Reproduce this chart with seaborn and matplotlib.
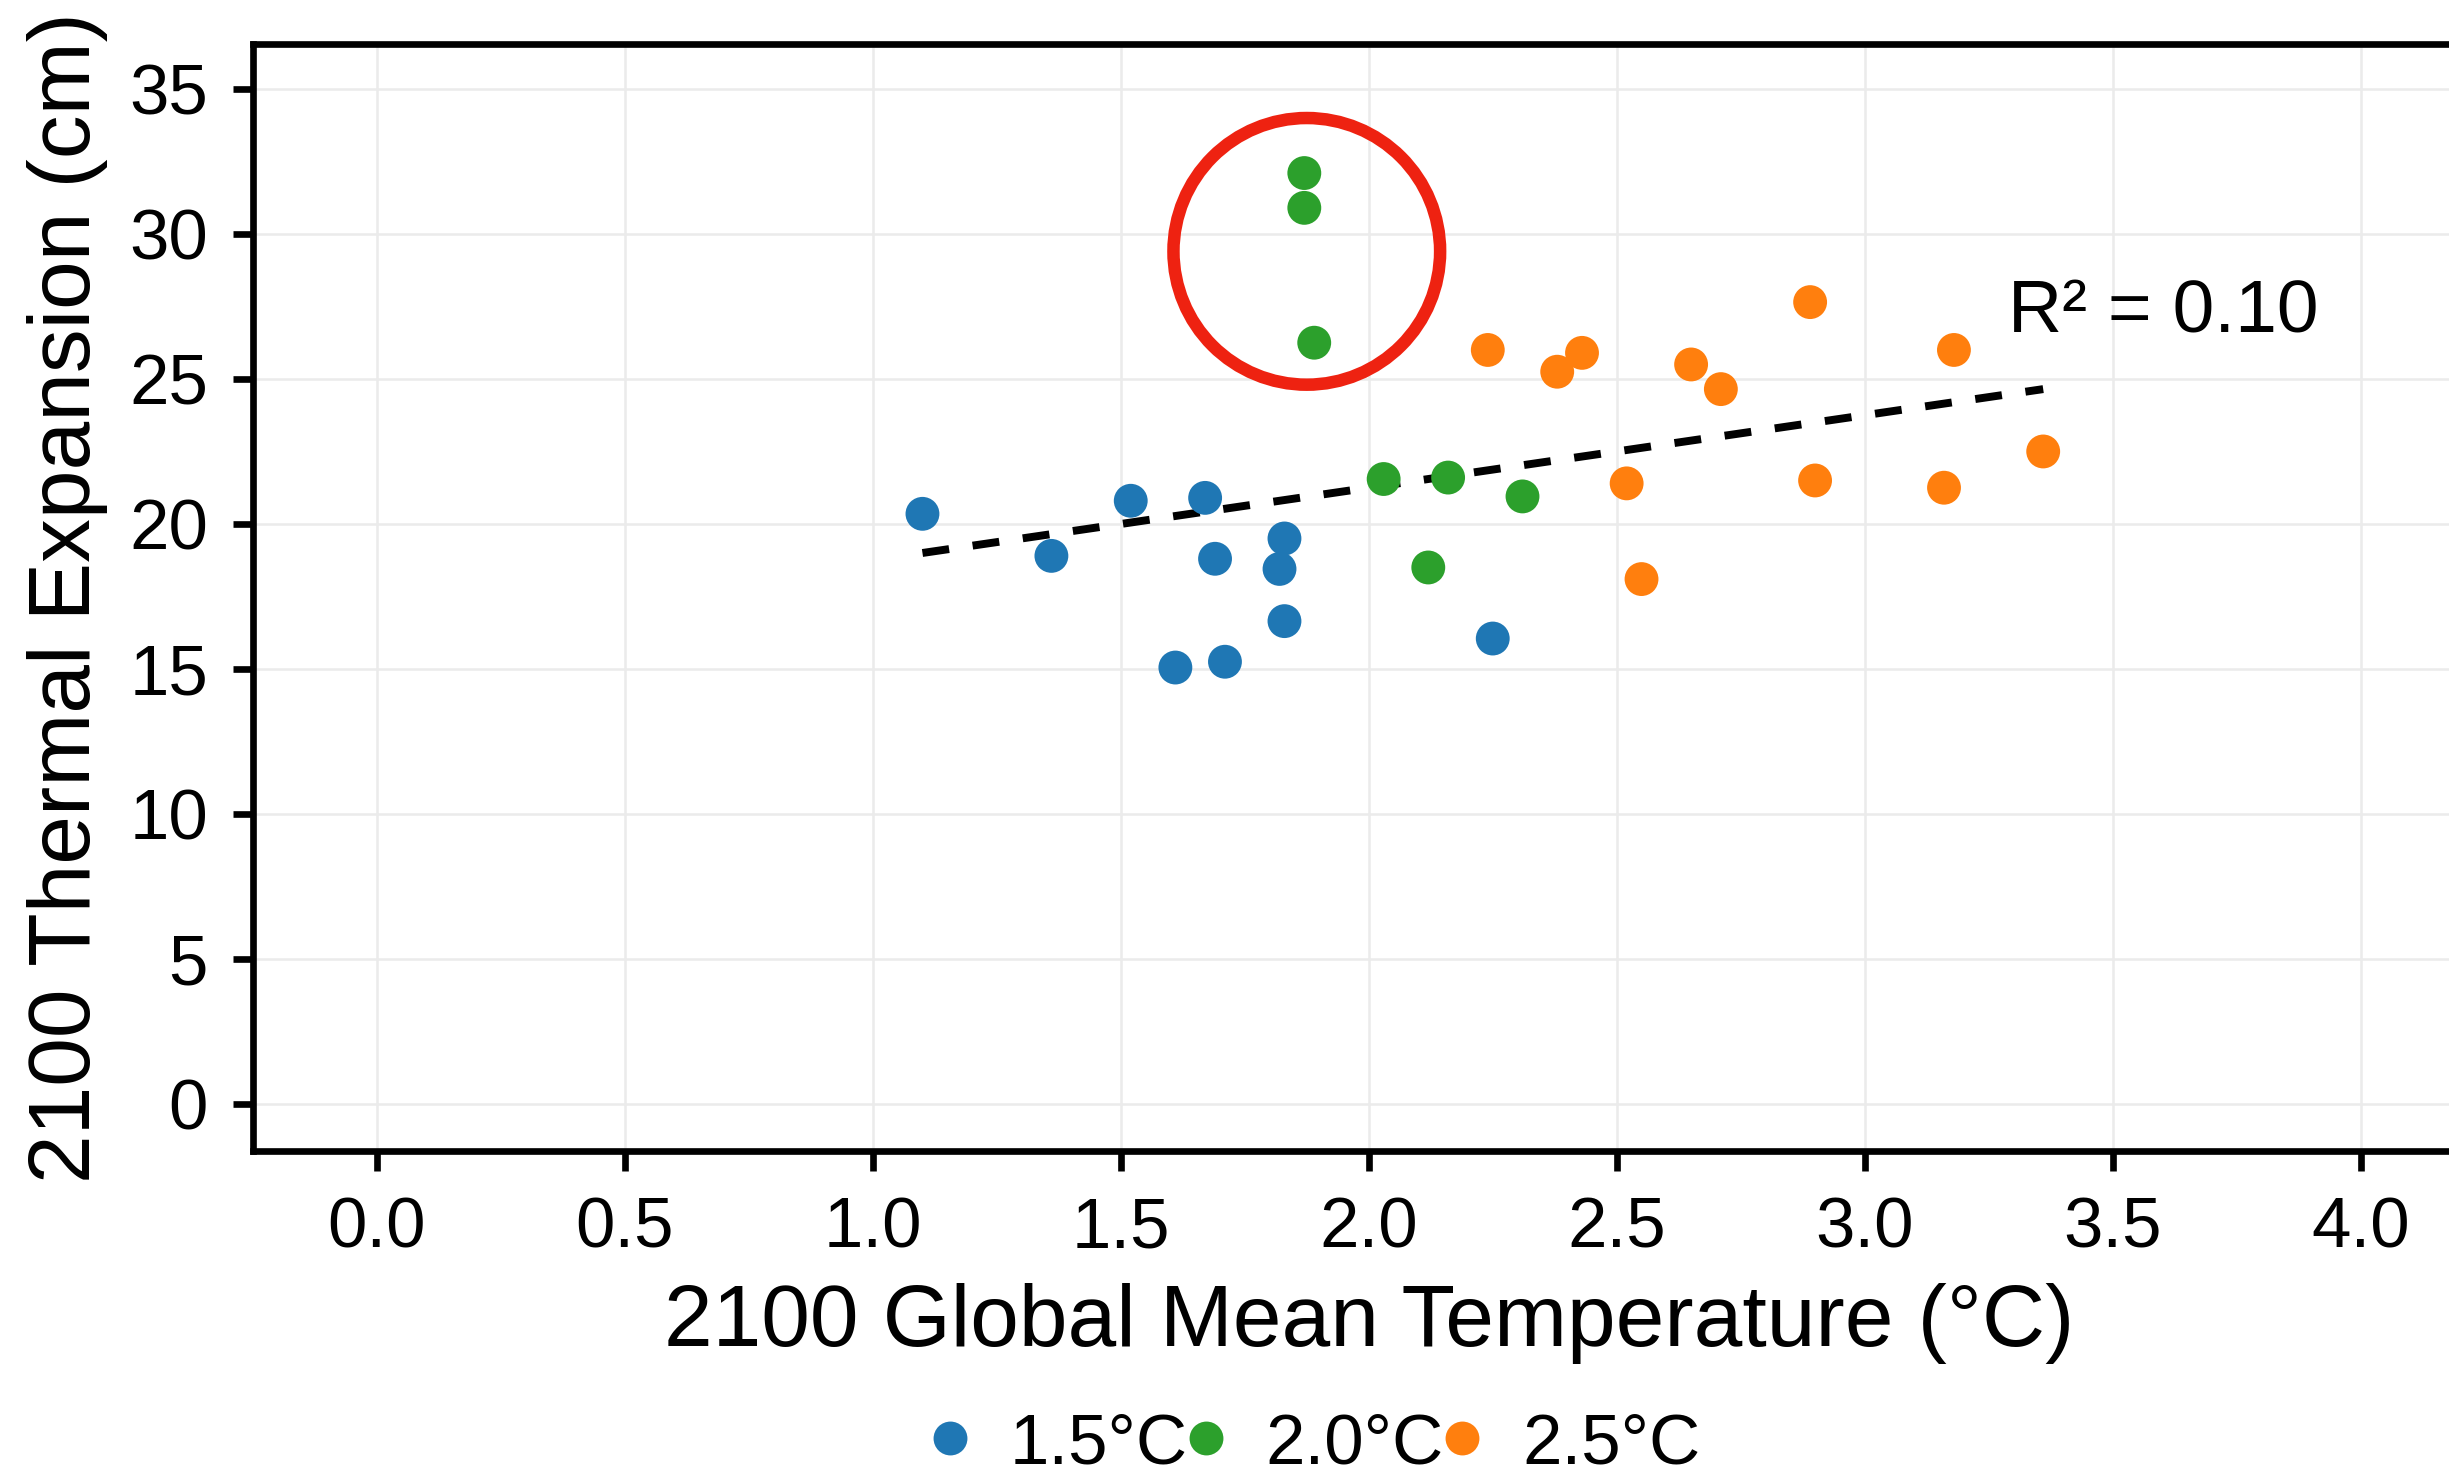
import numpy as np
import pandas as pd
import matplotlib
matplotlib.use("Agg")
import matplotlib.pyplot as plt
import seaborn as sns

# values
temp_15 = [1.10, 1.36, 1.52, 1.67, 1.69, 1.83, 1.82, 1.83, 1.61, 1.71, 2.25]
exp_15 = [20.35, 18.9, 20.8, 20.9, 18.8, 19.5, 18.45, 16.65, 15.05, 15.25, 16.05]
temp_20 = [1.87, 1.87, 1.89, 2.03, 2.16, 2.31, 2.12]
exp_20 = [32.1, 30.9, 26.25, 21.55, 21.6, 20.95, 18.5]
temp_25 = [2.24, 2.38, 2.43, 2.65, 2.71, 2.89, 3.18, 2.52, 2.90, 3.16, 3.36, 2.55]
exp_25 = [26.0, 25.25, 25.9, 25.5, 24.65, 27.65, 26.0, 21.4, 21.5, 21.25, 22.5, 18.1]
scenarios = ["1.5°C", "2.0°C", "2.5°C"]
colors = ["#1f77b4", "#2ca02c", "#ff7f0e"]
# fitted line (end points as drawn in the reference)
fit_x = [1.10, 3.36]
fit_y = [19.0, 24.65]
outlier_x = [1.875]
outlier_y = [29.4]

df = pd.DataFrame({
    "temp": temp_15 + temp_20 + temp_25,
    "exp": exp_15 + exp_20 + exp_25,
    "scenario": [scenarios[0]] * len(temp_15) + [scenarios[1]] * len(temp_20)
    + [scenarios[2]] * len(temp_25),
})

sns.set_style("whitegrid")
plt.rcParams["font.family"] = ["Liberation Sans", "DejaVu Sans"]
plt.rcParams["text.color"] = "black"
plt.rcParams["axes.labelcolor"] = "black"
plt.rcParams["xtick.color"] = "black"
plt.rcParams["ytick.color"] = "black"

fig = plt.figure(figsize=(2449 / 300, 1484 / 300), dpi=300)
ax = fig.add_axes([253 / 2449, 1 - 1151 / 1484, 4.5 * 495.9 / 2449, (1151 - 43.7) / 1484])

sns.lineplot(x=fit_x, y=fit_y, color="black", lw=1.9, linestyle=(0, (3.4, 3.0)), ax=ax)
sns.scatterplot(data=df, x="temp", y="exp", hue="scenario", hue_order=scenarios,
                palette=colors, s=66, linewidth=0, ax=ax, zorder=3)
ax.scatter(outlier_x, outlier_y, s=4096, facecolors="none", edgecolors="#ee2211",
           linewidths=3, zorder=4)

ax.text(3.29, 27.3, "R² = 0.10", fontsize=18, va="center", ha="left")

ax.set_xlim(-0.25, 4.25)
ax.set_ylim(-1.62, 36.56)
ax.set_xticks(np.arange(0, 4.01, 0.5))
ax.set_yticks(np.arange(0, 36, 5))
ax.grid(True, color="#ebebeb", lw=0.6)
for side in ["left", "bottom", "top"]:
    ax.spines[side].set_color("black")
    ax.spines[side].set_linewidth(1.6)
ax.spines["right"].set_visible(False)
ax.tick_params(axis="both", which="major", labelsize=17, length=4.8, width=1.6,
               color="black", direction="out", left=True, bottom=True, pad=6)
ax.set_xlabel("2100 Global Mean Temperature (°C)", fontsize=21, labelpad=5)
ax.set_ylabel("2100 Thermal Expansion (cm)", fontsize=21, labelpad=5)

handles, labels = ax.get_legend_handles_labels()
ax.legend(handles, labels, loc="center", bbox_to_anchor=(1316 / 2449, 1 - 1445 / 1484),
          bbox_transform=fig.transFigure, ncol=3, frameon=False, fontsize=17,
          handlelength=0.5, handletextpad=0.6, columnspacing=0.0, borderpad=0)

fig.savefig("out.png", dpi=300)
